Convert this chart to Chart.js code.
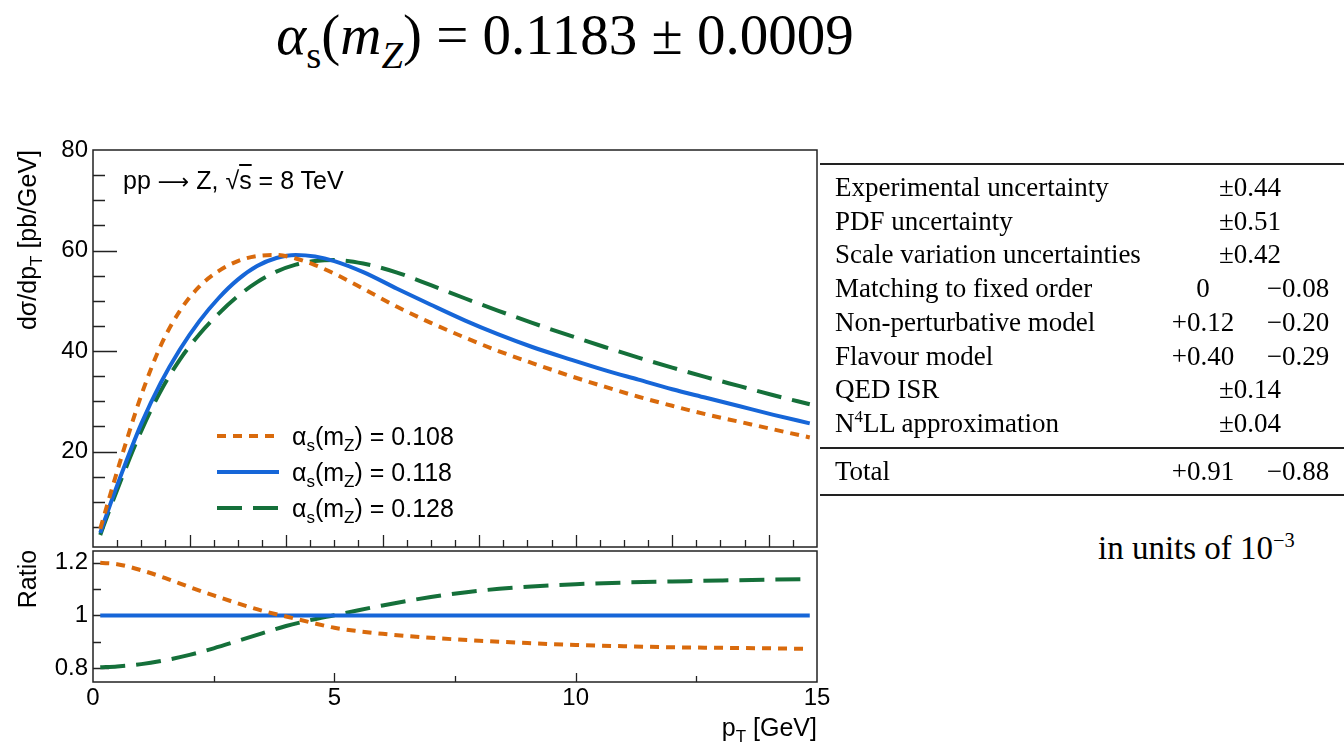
<!DOCTYPE html>
<html>
<head>
<meta charset="utf-8">
<script src="https://cdn.jsdelivr.net/npm/chart.js@4.4.0/dist/chart.umd.min.js"></script>
<style>
  body { margin: 0; background: #fff; }
  #page { position: relative; width: 1344px; height: 756px; overflow: hidden; font-family: 'Liberation Sans', Arial, sans-serif; color: #000; background: #fff; }
  canvas { position: absolute; left: 0; }
  .abs { position: absolute; white-space: nowrap; }
  sub { font-size: 0.68em; vertical-align: -0.35em; line-height: 0; }
  sup { font-size: 0.62em; vertical-align: 0.6em; line-height: 0; }
  .serif { font-family: 'Liberation Serif', 'Times New Roman', serif; }
  .rot { transform: translate(-50%, -50%) rotate(-90deg); font-size: 25px; line-height: 28px; }
  .cell { position: absolute; white-space: nowrap; font-size: 27px; line-height: 30px; height: 30px; }
  .rule { position: absolute; left: 820px; width: 524px; background: #222; }
</style>
</head>
<body>
<div id="page">
  <div class="abs serif" style="left:0; width:1130px; text-align:center; top:2px; font-size:57px; line-height:66px;">
    <i>α</i><sub>s</sub>(<i>m</i><sub><i>Z</i></sub>) = 0.1183 ± 0.0009
  </div>

  <canvas id="mainChart" width="840" height="451" style="top:120px"></canvas>
  <canvas id="ratioChart" width="840" height="236" style="top:520px"></canvas>

  <div class="abs rot" style="left:27px; top:240px;">dσ/dp<sub>T</sub> [pb/GeV]</div>
  <div class="abs rot" style="left:27px; top:579px;">Ratio</div>
  <div class="abs" style="right:527px; top:713px; font-size:25px; line-height:28px;">p<sub>T</sub> [GeV]</div>
  <div class="abs" style="left:123px; top:166px; font-size:25px; line-height:28px;">pp <span style="font-family:'DejaVu Sans'; font-size:22px;">⟶</span> Z, √<span style="text-decoration:overline">s</span> = 8 TeV</div>

  <div id="legend"></div>
  <div id="table"></div>
</div>

<script>
// pT grid of the upper panel [GeV]
const ptMain = [0.15, 0.35, 0.6, 1.0, 1.4, 1.8, 2.2, 2.6, 3.0, 3.4, 3.8, 4.2, 4.6, 5.0, 5.6, 6.3, 7.0, 7.7, 8.4, 9.1, 9.9, 10.6, 11.3, 12.0, 12.7, 13.4, 14.1, 14.85];
// dsigma/dpT [pb/GeV]
const xsec108 = [4.6, 11.2, 19.2, 31.2, 41.0, 48.0, 52.8, 55.9, 57.9, 58.9, 59.1, 58.4, 57.1, 55.4, 52.4, 48.8, 45.6, 42.7, 40.0, 37.6, 35.0, 32.9, 30.9, 29.1, 27.4, 25.9, 24.4, 22.8];
const xsec118 = [3.8, 9.3, 15.8, 25.5, 33.6, 40.3, 45.9, 50.5, 54.2, 56.9, 58.5, 59.1, 58.8, 57.9, 55.7, 52.4, 49.2, 46.1, 43.3, 40.8, 38.3, 36.2, 34.3, 32.4, 30.7, 29.0, 27.3, 25.6];
const xsec128 = [3.4, 8.6, 14.8, 24.1, 32.0, 38.3, 43.3, 47.4, 50.9, 53.7, 55.8, 57.2, 57.9, 58.1, 57.4, 55.6, 53.1, 50.5, 48.0, 45.6, 43.0, 40.8, 38.7, 36.7, 34.8, 33.0, 31.2, 29.4];

// ratio panel
const ptRatio = [0.15, 0.5, 1.0, 1.5, 2.0, 2.5, 3.0, 3.5, 4.0, 4.5, 5.0, 5.5, 6.0, 7.0, 8.0, 9.0, 10.0, 11.0, 12.0, 13.0, 14.0, 14.85];
const ratio108 = [1.200, 1.195, 1.172, 1.142, 1.108, 1.076, 1.046, 1.018, 0.996, 0.974, 0.953, 0.940, 0.930, 0.915, 0.904, 0.895, 0.888, 0.883, 0.879, 0.877, 0.875, 0.873];
const ratio118 = [1, 1, 1, 1, 1, 1, 1, 1, 1, 1, 1, 1, 1, 1, 1, 1, 1, 1, 1, 1, 1, 1];
const ratio128 = [0.803, 0.806, 0.815, 0.830, 0.850, 0.875, 0.903, 0.932, 0.960, 0.982, 1.001, 1.020, 1.038, 1.070, 1.094, 1.109, 1.119, 1.125, 1.129, 1.133, 1.136, 1.138];

const alphaLabels = ['0.108', '0.118', '0.128'];
const mainYTicks = [20, 40, 60, 80];
const ratioYTicks = [0.8, 1, 1.2];
const ratioXTicks = [0, 5, 10, 15];

// uncertainty table (units of 1e-3)
const tableLabels = ['Experimental uncertainty', 'PDF uncertainty', 'Scale variation uncertainties', 'Matching to fixed order',
  'Non-perturbative model', 'Flavour model', 'QED ISR', 'N<sup>4</sup>LL approximation'];
const tableUp = ['±0.44', '±0.51', '±0.42', '0', '+0.12', '+0.40', '±0.14', '±0.04'];
const tableDown = [null, null, null, '−0.08', '−0.20', '−0.29', null, null];
const totalUp = '+0.91';
const totalDown = '−0.88';

const colors = ['#d96a0c', '#1666d8', '#15703a'];
const dashes = [[9, 7], [], [25, 11]];
const font = { family: "'Liberation Sans', Arial, sans-serif", size: 24 };

function series(xs, ys, i) {
    return {
        data: xs.map((x, k) => ({ x: x, y: ys[k] })),
        borderColor: colors[i],
        borderDash: dashes[i],
        borderWidth: 4,
        pointRadius: 0,
        cubicInterpolationMode: 'monotone',
        fill: false
    };
}

// frame + inward ticks (ROOT style)
const framePlugin = {
    id: 'frame',
    beforeDatasetsDraw(chart, args, opts) {
        const { ctx, chartArea: a, scales } = chart;
        ctx.save();
        ctx.strokeStyle = '#222';
        ctx.lineWidth = 1.3;
        ctx.beginPath();
        opts.xTicks.forEach(([v, len]) => {
            const px = Math.round(scales.x.getPixelForValue(v)) + 0.5;
            ctx.moveTo(px, a.bottom);
            ctx.lineTo(px, a.bottom - len);
        });
        opts.yTicks.forEach(([v, len]) => {
            const py = Math.round(scales.y.getPixelForValue(v)) + 0.5;
            ctx.moveTo(a.left, py);
            ctx.lineTo(a.left + len, py);
        });
        ctx.stroke();
        ctx.restore();
    },
    afterDatasetsDraw(chart) {
        const { ctx, chartArea: a } = chart;
        ctx.save();
        ctx.strokeStyle = '#222';
        ctx.lineWidth = 1.5;
        ctx.strokeRect(a.left, a.top, a.right - a.left, a.bottom - a.top);
        ctx.restore();
    }
};

const mainXMarks = [];
for (let v = 0.5; v < 15; v += 0.5) mainXMarks.push([v, v % 2 === 0 ? 12 : 7]);
const mainYMarks = [];
for (let v = 5; v < 80; v += 5) mainYMarks.push([v, v % 20 === 0 ? 24 : 12]);

new Chart(document.getElementById('mainChart'), {
    type: 'line',
    data: { datasets: [series(ptMain, xsec108, 0), series(ptMain, xsec118, 1), series(ptMain, xsec128, 2)] },
    options: {
        responsive: false,
        animation: false,
        layout: { padding: { top: 30, right: 23, left: 0, bottom: 0 } },
        plugins: {
            legend: { display: false },
            tooltip: { enabled: false },
            frame: { xTicks: mainXMarks, yTicks: mainYMarks }
        },
        scales: {
            x: {
                type: 'linear', min: 0, max: 15,
                grid: { display: false, drawTicks: false },
                border: { display: false },
                ticks: { display: false },
                afterFit: s => { s.height = 24; }
            },
            y: {
                min: 1, max: 80,
                grid: { display: false, drawTicks: false },
                border: { display: false },
                ticks: { font: font, color: '#000', padding: 5, callback: v => String(v) },
                afterBuildTicks: s => { s.ticks = mainYTicks.map(v => ({ value: v })); },
                afterFit: s => { s.width = 93; }
            }
        }
    },
    plugins: [framePlugin]
});

new Chart(document.getElementById('ratioChart'), {
    type: 'line',
    data: { datasets: [series(ptRatio, ratio108, 0), series(ptRatio, ratio118, 1), series(ptRatio, ratio128, 2)] },
    options: {
        responsive: false,
        animation: false,
        layout: { padding: { top: 31, right: 23, left: 0, bottom: 0 } },
        plugins: {
            legend: { display: false },
            tooltip: { enabled: false },
            frame: {
                xTicks: [[2.5, 6], [5, 9], [7.5, 6], [10, 9], [12.5, 6]],
                yTicks: [[0.8, 16], [0.9, 8], [1, 16], [1.1, 8], [1.2, 16]]
            }
        },
        scales: {
            x: {
                type: 'linear', min: 0, max: 15,
                grid: { display: false, drawTicks: false },
                border: { display: false },
                ticks: { font: font, color: '#000', padding: 2, autoSkip: false, maxRotation: 0, callback: v => String(v) },
                afterBuildTicks: s => { s.ticks = ratioXTicks.map(v => ({ value: v })); },
                afterFit: s => { s.height = 74; }
            },
            y: {
                min: 0.747, max: 1.245,
                grid: { display: false, drawTicks: false },
                border: { display: false },
                ticks: { font: font, color: '#000', padding: 5, callback: v => String(v) },
                afterBuildTicks: s => { s.ticks = ratioYTicks.map(v => ({ value: v })); },
                afterFit: s => { s.width = 93; }
            }
        }
    },
    plugins: [framePlugin]
});

// legend
const legend = document.getElementById('legend');
alphaLabels.forEach((lab, i) => {
    const row = document.createElement('div');
    row.className = 'abs';
    row.style.cssText = 'left:217px; top:' + (422 + i * 36) + 'px; height:28px; line-height:28px; font-size:25px; display:flex; align-items:center;';
    row.innerHTML = '<svg width="62" height="8" style="margin-right:13px"><line x1="0" y1="4" x2="62" y2="4" stroke="' + colors[i] +
        '" stroke-width="4" stroke-dasharray="' + (dashes[i].length ? dashes[i].join(' ') : 'none') + '"/></svg>' +
        '<span>α<sub>s</sub>(m<sub>Z</sub>) = ' + lab + '</span>';
    legend.appendChild(row);
});

// table
const table = document.getElementById('table');
function cell(html, x, yc, align) {
    const d = document.createElement('div');
    d.className = 'cell serif';
    d.innerHTML = html;
    d.style.top = (yc - 15) + 'px';
    if (align === 'left') d.style.left = x + 'px';
    else { d.style.left = (x - 100) + 'px'; d.style.width = '200px'; d.style.textAlign = 'center'; }
    table.appendChild(d);
}
function rule(y, h) {
    const r = document.createElement('div');
    r.className = 'rule';
    r.style.top = y + 'px';
    r.style.height = h + 'px';
    table.appendChild(r);
}
rule(163, 2);
tableLabels.forEach((lab, i) => {
    const yc = 187 + i * 33.7;
    cell(lab, 835, yc, 'left');
    if (tableDown[i] === null) cell(tableUp[i], 1250, yc, 'center');
    else { cell(tableUp[i], 1203, yc, 'center'); cell(tableDown[i], 1298, yc, 'center'); }
});
rule(447, 2);
cell('Total', 835, 471, 'left');
cell(totalUp, 1203, 471, 'center');
cell(totalDown, 1298, 471, 'center');
rule(494, 2);
const units = document.createElement('div');
units.className = 'abs serif';
units.style.cssText = 'left:1098px; top:529px; font-size:33px; line-height:38px;';
units.innerHTML = 'in units of 10<sup>−3</sup>';
table.appendChild(units);
</script>
</body>
</html>
